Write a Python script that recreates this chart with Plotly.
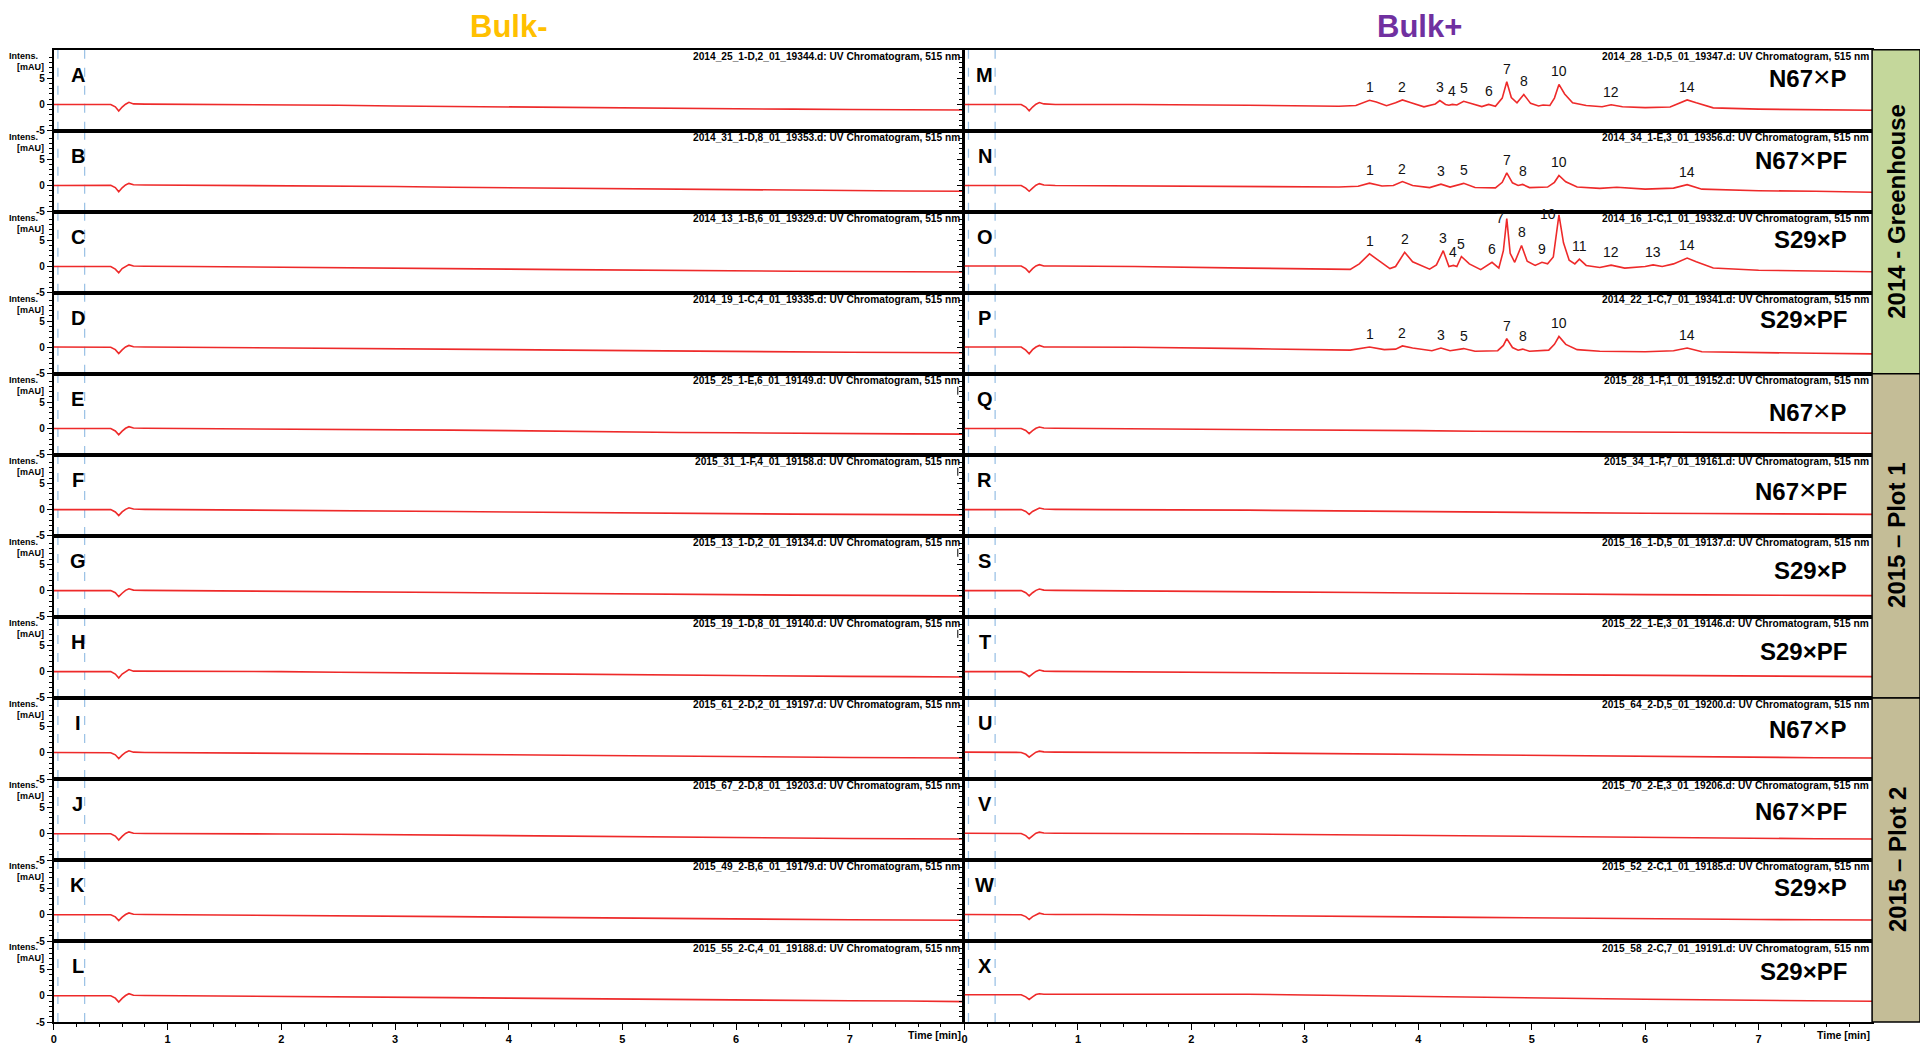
import plotly.graph_objects as go

# ---------------- data: UV chromatograms at 515 nm (time in min, intensity in mAU) ----------------
LEFT_IDS = list("ABCDEFGHIJKL")
RIGHT_IDS = list("MNOPQRSTUVWX")

LEFT_FILES = [
    "2014_25_1-D,2_01_19344.d", "2014_31_1-D,8_01_19353.d", "2014_13_1-B,6_01_19329.d",
    "2014_19_1-C,4_01_19335.d", "2015_25_1-E,6_01_19149.d", "2015_31_1-F,4_01_19158.d",
    "2015_13_1-D,2_01_19134.d", "2015_19_1-D,8_01_19140.d", "2015_61_2-D,2_01_19197.d",
    "2015_67_2-D,8_01_19203.d", "2015_49_2-B,6_01_19179.d", "2015_55_2-C,4_01_19188.d",
]
RIGHT_FILES = [
    "2014_28_1-D,5_01_19347.d", "2014_34_1-E,3_01_19356.d", "2014_16_1-C,1_01_19332.d",
    "2014_22_1-C,7_01_19341.d", "2015_28_1-F,1_01_19152.d", "2015_34_1-F,7_01_19161.d",
    "2015_16_1-D,5_01_19137.d", "2015_22_1-E,3_01_19146.d", "2015_64_2-D,5_01_19200.d",
    "2015_70_2-E,3_01_19206.d", "2015_52_2-C,1_01_19185.d", "2015_58_2-C,7_01_19191.d",
]
CROSSES = ["N67×P", "N67×PF", "S29×P", "S29×PF"] * 3
GROUPS = ["2014 - Greenhouse", "2015 – Plot 1", "2015 – Plot 2"]
X_TICKS = [0, 1, 2, 3, 4, 5, 6, 7]
Y_TICKS = [-5, 0, 5]

# time grid of the flat (no anthocyanin) traces
T_BASE = [0, 0.30, 0.50, 0.54, 0.57, 0.60, 0.63, 0.66, 0.70, 0.80, 1.2, 1.6, 2.0,
          2.5, 3.0, 3.5, 4.0, 4.5, 5.0, 5.5, 6.0, 6.5, 7.0, 7.5, 8.0]

A_Y = [0.00, 0.05, 0.00, -0.45, -1.25, -0.50, 0.05, 0.40, 0.10, 0.05, 0.00, 0.05, -0.05, -0.15, -0.30, -0.40, -0.50, -0.60, -0.70, -0.80, -0.85, -0.90, -0.95, -1.00, -1.05]
B_Y = [0.00, 0.10, 0.05, -0.40, -1.20, -0.45, 0.10, 0.40, 0.15, 0.10, 0.05, 0.00, 0.00, -0.10, -0.20, -0.35, -0.45, -0.55, -0.65, -0.75, -0.85, -0.95, -1.00, -1.05, -1.10]
C_Y = [0.00, 0.05, 0.00, -0.50, -1.20, -0.40, 0.05, 0.35, 0.10, 0.05, 0.00, -0.05, -0.10, -0.20, -0.30, -0.40, -0.50, -0.60, -0.70, -0.75, -0.85, -0.90, -0.95, -1.00, -1.05]
D_Y = [0.10, 0.10, 0.05, -0.40, -1.15, -0.45, 0.10, 0.40, 0.15, 0.10, 0.05, 0.00, -0.05, -0.10, -0.20, -0.30, -0.40, -0.50, -0.60, -0.70, -0.80, -0.85, -0.90, -0.95, -1.00]
E_Y = [0.00, 0.05, 0.00, -0.45, -1.20, -0.50, 0.05, 0.35, 0.10, 0.05, 0.00, 0.05, 0.00, -0.10, -0.20, -0.30, -0.40, -0.55, -0.65, -0.75, -0.80, -0.90, -0.95, -1.00, -1.05]
F_Y = [0.00, 0.05, 0.00, -0.45, -1.15, -0.45, 0.05, 0.35, 0.10, 0.05, 0.00, 0.00, -0.05, -0.10, -0.25, -0.35, -0.45, -0.55, -0.65, -0.70, -0.80, -0.85, -0.90, -0.95, -1.00]
G_Y = [0.00, 0.05, 0.00, -0.40, -1.15, -0.50, 0.05, 0.35, 0.10, 0.05, 0.00, 0.00, -0.05, -0.15, -0.25, -0.35, -0.45, -0.55, -0.65, -0.75, -0.80, -0.85, -0.90, -0.95, -1.00]
H_Y = [0.00, 0.05, 0.00, -0.45, -1.20, -0.45, 0.05, 0.40, 0.10, 0.10, 0.05, 0.05, 0.00, -0.10, -0.20, -0.30, -0.40, -0.50, -0.60, -0.70, -0.80, -0.85, -0.90, -0.95, -1.00]
I_Y = [0.05, 0.05, 0.00, -0.40, -1.10, -0.45, 0.05, 0.35, 0.10, 0.05, 0.00, 0.00, -0.05, -0.10, -0.20, -0.30, -0.40, -0.50, -0.60, -0.70, -0.75, -0.85, -0.90, -0.95, -1.00]
J_Y = [0.00, 0.05, 0.00, -0.45, -1.20, -0.50, 0.05, 0.35, 0.10, 0.05, 0.05, 0.00, -0.05, -0.10, -0.20, -0.30, -0.40, -0.50, -0.60, -0.70, -0.80, -0.85, -0.90, -0.95, -1.00]
K_Y = [0.00, 0.05, 0.00, -0.40, -1.10, -0.45, 0.05, 0.35, 0.10, 0.05, 0.00, 0.00, -0.05, -0.10, -0.25, -0.35, -0.45, -0.55, -0.65, -0.75, -0.80, -0.90, -0.95, -1.00, -1.05]
L_Y = [0.00, 0.05, 0.00, -0.45, -1.20, -0.50, 0.05, 0.40, 0.10, 0.05, 0.00, 0.00, -0.05, -0.15, -0.25, -0.35, -0.45, -0.55, -0.65, -0.75, -0.85, -0.90, -0.95, -1.00, -1.10]

Q_Y = [0.00, 0.05, 0.00, -0.35, -0.95, -0.40, 0.05, 0.30, 0.10, 0.05, 0.00, 0.00, -0.05, -0.10, -0.20, -0.30, -0.40, -0.50, -0.55, -0.65, -0.70, -0.75, -0.80, -0.85, -0.90]
R_Y = [0.00, 0.05, 0.00, -0.35, -0.90, -0.35, 0.05, 0.30, 0.10, 0.05, 0.00, 0.00, -0.05, -0.10, -0.20, -0.30, -0.40, -0.45, -0.55, -0.60, -0.70, -0.75, -0.80, -0.85, -0.90]
S_Y = [0.00, 0.05, 0.00, -0.40, -1.00, -0.40, 0.05, 0.30, 0.10, 0.05, 0.00, 0.00, -0.05, -0.15, -0.25, -0.35, -0.45, -0.55, -0.60, -0.70, -0.75, -0.80, -0.85, -0.90, -0.95]
T_Y = [0.00, 0.05, 0.00, -0.40, -0.95, -0.40, 0.05, 0.30, 0.10, 0.05, 0.00, 0.00, -0.05, -0.10, -0.20, -0.30, -0.40, -0.50, -0.55, -0.65, -0.70, -0.80, -0.85, -0.90, -0.95]
U_Y = [0.10, 0.10, 0.05, -0.30, -0.85, -0.35, 0.10, 0.30, 0.15, 0.10, 0.10, 0.05, 0.00, -0.05, -0.15, -0.25, -0.35, -0.45, -0.55, -0.65, -0.75, -0.85, -0.90, -0.95, -1.00]
V_Y = [0.10, 0.10, 0.05, -0.35, -0.95, -0.40, 0.10, 0.30, 0.15, 0.10, 0.10, 0.05, 0.00, -0.05, -0.15, -0.25, -0.35, -0.45, -0.55, -0.65, -0.75, -0.80, -0.90, -0.95, -1.00]
W_Y = [0.05, 0.05, 0.00, -0.35, -0.90, -0.35, 0.05, 0.30, 0.10, 0.05, 0.05, 0.00, -0.05, -0.10, -0.20, -0.30, -0.40, -0.50, -0.60, -0.70, -0.75, -0.85, -0.90, -0.95, -1.00]
X_Y = [0.20, 0.25, 0.20, -0.20, -0.70, -0.20, 0.25, 0.40, 0.30, 0.30, 0.30, 0.35, 0.40, 0.30, 0.15, 0.00, -0.15, -0.30, -0.45, -0.55, -0.65, -0.75, -0.85, -0.95, -1.05]

# Bulk+ 2014 greenhouse traces with the anthocyanin peaks
M_T = [0, 0.30, 0.50, 0.54, 0.57, 0.60, 0.63, 0.66, 0.70, 0.80, 1.5, 2.5, 3.30, 3.45, 3.52,
       3.57, 3.63, 3.72, 3.80, 3.86, 3.93, 4.05, 4.15, 4.19, 4.24, 4.27, 4.30, 4.34, 4.40,
       4.47, 4.56, 4.62, 4.68, 4.74, 4.78, 4.82, 4.87, 4.93, 4.99, 5.06, 5.10, 5.16, 5.20,
       5.24, 5.29, 5.36, 5.48, 5.62, 5.70, 5.80, 6.00, 6.22, 6.31, 6.37, 6.45, 6.60, 7.00,
       7.50, 8.00]
M_Y = [0.00, 0.05, 0.00, -0.50, -1.20, -0.50, 0.05, 0.35, 0.10, 0.00, 0.00, -0.15, -0.35, -0.20, 0.35,
       0.80, 0.45, -0.25, 0.30, 0.85, 0.35, -0.45, 0.10, 0.75, 0.00, -0.15, 0.00, -0.10, 0.60,
       0.10, -0.40, 0.00, -0.35, 1.20, 4.30, 1.30, 0.30, 1.90, 0.20, -0.30, -0.10, -0.20, 1.20,
       3.80, 2.00, 0.30, -0.20, -0.45, -0.05, -0.45, -0.60, -0.50, 0.30, 0.85, 0.30, -0.65, -0.90,
       -1.00, -1.10]
M_PEAK_ID = ["1", "2", "3", "4", "5", "6", "7", "8", "10", "12", "14"]
M_PEAK_T = [3.57, 3.86, 4.19, 4.30, 4.40, 4.62, 4.78, 4.93, 5.24, 5.70, 6.37]

N_T = [0, 0.30, 0.50, 0.54, 0.57, 0.60, 0.63, 0.66, 0.70, 0.80, 1.5, 2.5, 3.30, 3.47, 3.57,
       3.68, 3.78, 3.86, 3.95, 4.10, 4.20, 4.28, 4.40, 4.50, 4.68, 4.74, 4.78, 4.83, 4.88,
       4.92, 4.98, 5.14, 5.20, 5.24, 5.30, 5.40, 5.60, 5.75, 6.00, 6.25, 6.37, 6.50, 7.00,
       7.50, 8.00]
N_Y = [0.00, 0.05, 0.00, -0.50, -1.10, -0.50, 0.05, 0.35, 0.10, 0.00, -0.05, -0.15, -0.30, -0.15, 0.45,
       -0.10, 0.00, 0.75, 0.00, -0.40, 0.25, -0.30, 0.40, -0.40, -0.45, 0.60, 2.40, 0.50, 0.00,
       0.20, -0.40, -0.30, 0.60, 1.90, 0.70, -0.30, -0.55, -0.35, -0.70, -0.50, 0.15, -0.70, -1.00,
       -1.10, -1.30]
N_PEAK_ID = ["1", "2", "3", "5", "7", "8", "10", "14"]
N_PEAK_T = [3.57, 3.86, 4.20, 4.40, 4.78, 4.92, 5.24, 6.37]

O_T = [0, 0.30, 0.50, 0.54, 0.57, 0.60, 0.63, 0.66, 0.70, 0.80, 1.5, 2.5, 3.0, 3.40, 3.48,
       3.57, 3.64, 3.75, 3.80, 3.88, 3.95, 4.10, 4.16, 4.22, 4.27, 4.31, 4.34, 4.38, 4.45,
       4.55, 4.65, 4.71, 4.75, 4.78, 4.81, 4.85, 4.91, 4.96, 5.03, 5.09, 5.14, 5.19, 5.24,
       5.28, 5.33, 5.38, 5.42, 5.48, 5.60, 5.70, 5.82, 6.00, 6.07, 6.15, 6.25, 6.37, 6.45,
       6.60, 7.00, 7.50, 8.00]
O_Y = [0.10, 0.15, 0.10, -0.40, -1.10, -0.40, 0.10, 0.35, 0.10, 0.10, 0.00, -0.30, -0.45, -0.55, 0.50,
       2.40, 1.30, -0.40, 0.00, 2.70, 0.90, -0.50, 0.30, 3.00, 0.00, 0.20, 0.00, 1.90, 0.50,
       -0.60, 0.80, -0.30, 3.00, 9.10, 2.50, 0.80, 4.00, 1.00, 0.20, 0.80, 0.50, 1.80, 9.80,
       4.50, 1.20, 0.50, 1.40, 0.20, -0.20, 0.25, -0.30, 0.00, 0.30, 0.00, 0.50, 1.60, 0.90,
       -0.30, -0.70, -0.90, -1.00]
O_PEAK_ID = ["1", "2", "3", "4", "5", "6", "7", "8", "9", "10", "11", "12", "13", "14"]
O_PEAK_T = [3.57, 3.88, 4.22, 4.31, 4.38, 4.65, 4.78, 4.91, 5.09, 5.24, 5.42, 5.70, 6.07, 6.37]

P_T = [0, 0.30, 0.50, 0.54, 0.57, 0.60, 0.63, 0.66, 0.70, 0.80, 1.5, 2.5, 3.0, 3.40, 3.57,
       3.70, 3.80, 3.86, 3.95, 4.12, 4.20, 4.28, 4.40, 4.50, 4.70, 4.75, 4.78, 4.83, 4.88,
       4.92, 4.98, 5.15, 5.20, 5.24, 5.30, 5.40, 5.60, 6.00, 6.25, 6.37, 6.50, 7.00, 7.50, 8.00]
P_Y = [0.10, 0.15, 0.10, -0.50, -1.20, -0.40, 0.10, 0.40, 0.10, 0.10, 0.05, -0.20, -0.35, -0.50, 0.10,
       -0.40, -0.30, 0.30, -0.10, -0.60, -0.10, -0.60, -0.20, -0.70, -0.60, 0.40, 1.70, 0.00, -0.50,
       -0.30, -0.70, -0.50, 0.60, 2.10, 0.60, -0.40, -0.70, -0.80, -0.60, -0.10, -0.80, -1.00, -1.10, -1.20]
P_PEAK_ID = ["1", "2", "3", "5", "7", "8", "10", "14"]
P_PEAK_T = [3.57, 3.86, 4.20, 4.40, 4.78, 4.92, 5.24, 6.37]

LEFT_SERIES = [(T_BASE, y) for y in [A_Y, B_Y, C_Y, D_Y, E_Y, F_Y, G_Y, H_Y, I_Y, J_Y, K_Y, L_Y]]
RIGHT_SERIES = [(M_T, M_Y), (N_T, N_Y), (O_T, O_Y), (P_T, P_Y)] + \
    [(T_BASE, y) for y in [Q_Y, R_Y, S_Y, T_Y, U_Y, V_Y, W_Y, X_Y]]
RIGHT_PEAKS = {0: (M_PEAK_ID, M_PEAK_T), 1: (N_PEAK_ID, N_PEAK_T),
               2: (O_PEAK_ID, O_PEAK_T), 3: (P_PEAK_ID, P_PEAK_T)}

# ---------------- layout geometry (pixels) ----------------
W, H = 1920, 1046
TOP = 50
ROW_H = 81.5
N_ROWS = 12
COLS = [(51, 962), (963, 1872)]
BAND_X0 = 1872
Y_RANGE = [-5, 10.4]
X_RANGE = [0, 8]
MARKERS = [0.035, 0.27]          # dashed reference lines (min)
CROSS_DY = [27, 28, 28, 27, 37, 35, 35, 35, 30, 31, 28, 31]   # label centre below panel top

RED = "#EE2A2A"
NARROW = "Liberation Sans Narrow, Arial Narrow, Liberation Sans, Arial, sans-serif"
SANS = "Liberation Sans, Arial, sans-serif"


def fy(px):
    return 1 - px / H


def fx(px):
    return px / W


fig = go.Figure()
layout = {}
annotations = []
shapes = []

for c in range(2):
    series = LEFT_SERIES if c == 0 else RIGHT_SERIES
    ids = LEFT_IDS if c == 0 else RIGHT_IDS
    files = LEFT_FILES if c == 0 else RIGHT_FILES
    x0p, x1p = COLS[c]
    for r in range(N_ROWS):
        k = c * N_ROWS + r + 1
        xn = "x" if k == 1 else f"x{k}"
        yn = "y" if k == 1 else f"y{k}"
        top_px = TOP + r * ROW_H
        bot_px = top_px + ROW_H
        bottom_row = r == N_ROWS - 1

        xa = dict(domain=[fx(x0p), fx(x1p)], range=X_RANGE, anchor=yn,
                  showline=True, mirror=True, linecolor="black", linewidth=2,
                  showgrid=False, zeroline=False, fixedrange=True)
        if bottom_row:
            xa.update(ticks="outside", tickmode="array", tickvals=X_TICKS,
                      ticktext=[str(v) for v in X_TICKS], ticklen=6, tickwidth=1.2,
                      tickcolor="black",
                      tickfont=dict(family=NARROW, size=11, color="black", weight="bold"),
                      minor=dict(ticks="outside", ticklen=3, tickwidth=1, tickcolor="black",
                                 tickmode="array",
                                 tickvals=[i / 5 for i in range(41) if i % 5]))
        else:
            xa.update(ticks="", showticklabels=False)

        ya = dict(domain=[fy(bot_px), fy(top_px)], range=Y_RANGE, anchor=xn,
                  showline=True, mirror=True, linecolor="black", linewidth=2,
                  showgrid=False, zeroline=False, fixedrange=True,
                  ticks="outside", tickmode="array", tickvals=Y_TICKS,
                  ticktext=[str(v) for v in Y_TICKS], ticklen=5, tickwidth=1.2,
                  tickcolor="black", showticklabels=(c == 0),
                  tickfont=dict(family=NARROW, size=10, color="black", weight="bold"),
                  minor=dict(ticks="outside", ticklen=3, tickwidth=1, tickcolor="black",
                             tickmode="array",
                             tickvals=[v for v in range(-5, 11) if v % 5]))
        layout["xaxis" if k == 1 else f"xaxis{k}"] = xa
        layout["yaxis" if k == 1 else f"yaxis{k}"] = ya

        t, yv = series[r]
        fig.add_trace(go.Scatter(x=t, y=yv, xaxis=xn, yaxis=yn, mode="lines",
                                 line=dict(color=RED, width=1.6),
                                 hoverinfo="skip", showlegend=False))

        # dashed time markers
        for m in MARKERS:
            shapes.append(dict(type="line", xref=xn, yref=f"{yn} domain", x0=m, x1=m,
                               y0=0, y1=1, line=dict(color="#9DC3E6", width=1.3, dash="dash"),
                               layer="below"))

        # panel letter
        annotations.append(dict(x=0.21 if c == 0 else 0.18, y=10.4 - 25 / 5.29, xref=xn, yref=yn,
                                text=ids[r], showarrow=False, xanchor="center", yanchor="middle",
                                font=dict(family=SANS, size=20, color="black", weight="bold")))
        # file header
        annotations.append(dict(x=1, y=1 - 7 / ROW_H, xref=f"{xn} domain", yref=f"{yn} domain",
                                text=f"{files[r]}: UV Chromatogram, 515 nm", showarrow=False,
                                xanchor="right", yanchor="middle", xshift=-1,
                                font=dict(family=NARROW, size=10.2, color="black", weight="bold")))

        if c == 0:
            annotations.append(dict(x=fx(4), y=fy(top_px + 6), xref="paper", yref="paper",
                                    text="Intens.", showarrow=False, xanchor="left",
                                    yanchor="middle",
                                    font=dict(family=NARROW, size=9, color="black", weight="bold")))
            annotations.append(dict(x=fx(43), y=fy(top_px + 17), xref="paper", yref="paper",
                                    text="[mAU]", showarrow=False, xanchor="right",
                                    yanchor="middle",
                                    font=dict(family=NARROW, size=9, color="black", weight="bold")))
            if 4 <= r <= 7:
                shapes.append(dict(type="line", xref=xn, yref="paper", x0=7.95, x1=7.95,
                                   y0=fy(top_px + 13), y1=fy(top_px + 21),
                                   line=dict(color="black", width=1)))
        else:
            cross = CROSSES[r]
            if cross.startswith("N67"):
                head, tail = cross.split("×")
                txt = (f"<b>{head}</b><span style='font-size:30px'>×</span><b>{tail}</b>")
            else:
                txt = f"<b>{cross}</b>"
            annotations.append(dict(x=7.80, y=fy(top_px + CROSS_DY[r]), xref=xn, yref="paper",
                                    text=txt, showarrow=False, xanchor="right", yanchor="middle",
                                    font=dict(family=SANS, size=24, color="black")))
            if r in RIGHT_PEAKS:
                pid, pt = RIGHT_PEAKS[r]
                for lab, tp in zip(pid, pt):
                    apex = yv[t.index(tp)]
                    if apex > 7:
                        annotations.append(dict(x=tp, y=apex, xref=xn, yref=yn, text=lab,
                                                showarrow=False, xanchor="right", yanchor="middle",
                                                xshift=-1, yshift=1,
                                                font=dict(family=SANS, size=14, color="#111")))
                    else:
                        annotations.append(dict(x=tp, y=apex, xref=xn, yref=yn, text=lab,
                                                showarrow=False, xanchor="center", yanchor="bottom",
                                                yshift=3,
                                                font=dict(family=SANS, size=14, color="#111")))

        if bottom_row:
            annotations.append(dict(x=fx(x1p), y=fy(1041), xref="paper", yref="paper",
                                    text="Time [min]", showarrow=False, xanchor="right",
                                    yanchor="middle",
                                    font=dict(family=NARROW, size=10.5, color="black", weight="bold")))

# column titles
annotations.append(dict(x=fx(507), y=fy(27), xref="paper", yref="paper", text="Bulk-",
                        showarrow=False, xanchor="center", yanchor="middle",
                        font=dict(family=SANS, size=31, color="#FFC000", weight="bold")))
annotations.append(dict(x=fx(1419), y=fy(27), xref="paper", yref="paper", text="Bulk+",
                        showarrow=False, xanchor="center", yanchor="middle",
                        font=dict(family=SANS, size=31, color="#7030A0", weight="bold")))

# environment bands on the right
band_fill = ["#C4D79B", "#C4BD97", "#C4BD97"]
for g, name in enumerate(GROUPS):
    y0p = TOP + g * 4 * ROW_H
    y1p = y0p + 4 * ROW_H
    shapes.append(dict(type="rect", xref="paper", yref="paper", x0=fx(BAND_X0), x1=1.0,
                       y0=fy(y1p), y1=fy(y0p), fillcolor=band_fill[g],
                       line=dict(color="black", width=1.5), layer="above"))
    annotations.append(dict(x=fx((BAND_X0 + W) / 2 + 1), y=fy((y0p + y1p) / 2), xref="paper",
                            yref="paper", text=name, textangle=-90, showarrow=False,
                            xanchor="center", yanchor="middle",
                            font=dict(family=SANS, size=24, color="black", weight="bold")))

fig.update_layout(width=W, height=H, autosize=False,
                  margin=dict(l=0, r=0, t=0, b=0, pad=0),
                  paper_bgcolor="white", plot_bgcolor="white",
                  showlegend=False, annotations=annotations, shapes=shapes, **layout)

fig.write_html("out.html", include_plotlyjs=True, full_html=True,
               config={"displayModeBar": False, "responsive": False})
